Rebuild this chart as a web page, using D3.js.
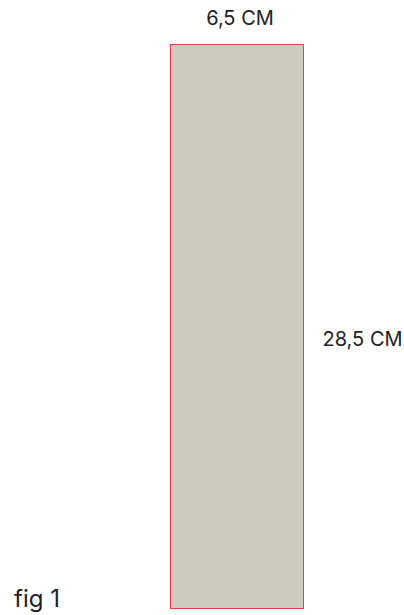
<!DOCTYPE html>
<html lang="en">
  <head>
    <meta charset="utf-8">
    <title>fig 1</title>
    <script src="https://d3js.org/d3.v7.min.js"></script>
    <style>
      body { margin: 0; background: #fff; }
      text { font-family: Inter, "Open Sans", sans-serif; fill: #222; }
    </style>
  </head>
  <body>
    <script>
      // piece dimensions in cm
      const widthCm = [6.5]
      const heightCm = [28.5]
      const widthLabels = ["6,5 CM"]
      const heightLabels = ["28,5 CM"]
      const caption = "fig 1"

      const measurements = { width: 404, height: 615 }

      const svg = d3.select("body").append("svg")
        .attr("width", measurements.width)
        .attr("height", measurements.height)

      const scaleX = d3.scaleLinear().domain([0, 6.5]).range([170.5, 303.5])
      const scaleY = d3.scaleLinear().domain([0, 28.5]).range([44.5, 608.5])

      svg.selectAll(".piece")
        .data(widthCm)
        .enter()
        .append("rect")
          .attr("class", "piece")
          .attr("x", scaleX(0))
          .attr("y", scaleY(0))
          .attr("width", d => scaleX(d) - scaleX(0))
          .attr("height", (d, i) => scaleY(heightCm[i]) - scaleY(0))
          .attr("fill", "#cfcabe")
          .attr("stroke", "#ee3b45")
          .attr("stroke-width", 1)

      // width label above the piece
      svg.append("text")
        .attr("x", scaleX(widthCm[0] / 2) + 3)
        .attr("y", 25)
        .attr("text-anchor", "middle")
        .style("font-size", "20px")
        .text(widthLabels[0])

      // height label to the right
      svg.append("text")
        .attr("x", scaleX(widthCm[0]) + 19)
        .attr("y", scaleY(heightCm[0] / 2) + 19)
        .style("font-size", "20px")
        .text(heightLabels[0])

      svg.append("text")
        .attr("x", 14)
        .attr("y", 607)
        .style("font-size", "24px")
        .text(caption)
    </script>
  </body>
</html>
